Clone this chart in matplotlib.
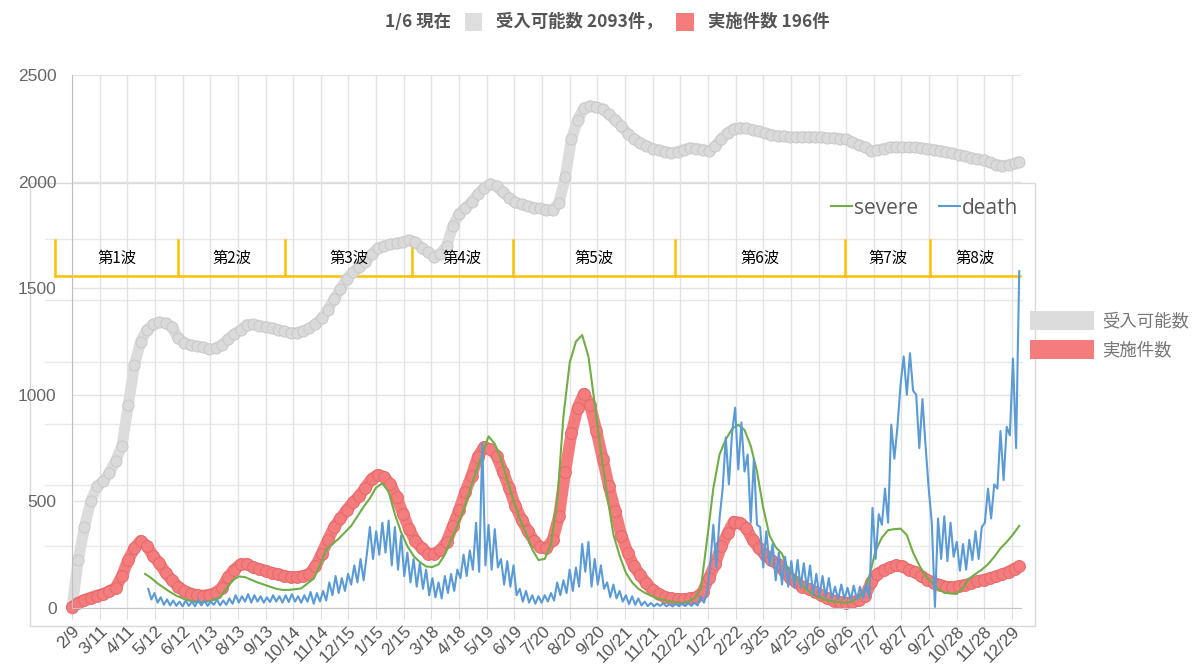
import matplotlib
matplotlib.use('Agg')
import matplotlib.pyplot as plt
from matplotlib.lines import Line2D
from matplotlib.patches import Patch, Rectangle
from matplotlib.offsetbox import TextArea, DrawingArea, HPacker, AnchoredOffsetbox
import pandas as pd

plt.rcParams['font.family'] = ['Noto Sans CJK JP', 'DejaVu Sans']

today = '2023-01-06'
latest_accept = 2093
latest_done = 196

# 受入可能数, weekly from 2020-02-09
accept = [0, 225, 380, 500, 570, 595, 635, 690, 760, 950,
          1140, 1250, 1305, 1330, 1340, 1335, 1320, 1265, 1245, 1232,
          1228, 1222, 1215, 1218, 1235, 1262, 1285, 1305, 1328, 1330,
          1325, 1318, 1313, 1305, 1298, 1292, 1292, 1300, 1312, 1330,
          1360, 1400, 1450, 1495, 1545, 1575, 1600, 1622, 1660, 1688,
          1698, 1705, 1710, 1718, 1725, 1715, 1690, 1670, 1648, 1660,
          1698, 1790, 1850, 1875, 1905, 1940, 1970, 1990, 1978, 1951,
          1925, 1902, 1893, 1885, 1878, 1874, 1869, 1868, 1900, 2020,
          2200, 2290, 2345, 2355, 2350, 2340, 2315, 2290, 2260, 2225,
          2200, 2182, 2168, 2155, 2148, 2140, 2134, 2140, 2150, 2158,
          2155, 2150, 2143, 2165, 2200, 2230, 2248, 2252, 2250, 2244,
          2235, 2228, 2220, 2215, 2212, 2210, 2208, 2210, 2210, 2208,
          2208, 2206, 2204, 2202, 2198, 2185, 2172, 2160, 2145, 2148,
          2155, 2160, 2162, 2162, 2160, 2160, 2158, 2155, 2150, 2145,
          2138, 2132, 2126, 2120, 2113, 2106, 2100, 2090, 2080, 2075,
          2078, 2085]

# 実施件数, weekly from 2020-02-09
done = [5, 25, 38, 48, 58, 66, 78, 95, 150, 225,
        280, 315, 290, 245, 210, 165, 130, 100, 80, 68,
        60, 58, 62, 72, 95, 145, 180, 205, 205, 192,
        183, 175, 165, 158, 150, 145, 145, 150, 160, 195,
        255, 320, 380, 420, 460, 495, 525, 565, 605, 625,
        615, 580, 520, 443, 370, 315, 280, 255, 255, 270,
        310, 385, 460, 545, 620, 710, 755, 745, 715, 640,
        565, 480, 415, 360, 315, 285, 280, 320, 430, 640,
        820, 940, 1005, 950, 830, 700, 570, 455, 340, 260,
        195, 155, 115, 85, 65, 52, 45, 42, 42, 45,
        50, 75, 140, 205, 290, 350, 405, 400, 375, 320,
        280, 250, 225, 205, 175, 140, 120, 100, 90, 75,
        60, 45, 35, 28, 24, 28, 36, 55, 120, 160,
        178, 190, 200, 195, 180, 170, 150, 132, 118, 108,
        100, 98, 102, 108, 115, 125, 132, 140, 148, 158,
        170, 185]

# severe, weekly, ending on the latest date
severe = [160, 140, 115, 95, 75, 58, 45, 35, 28, 25,
          30, 38, 50, 90, 130, 148, 145, 132, 120, 110,
          100, 90, 85, 85, 88, 92, 115, 138, 200, 275,
          300, 325, 355, 385, 430, 475, 515, 565, 585, 545,
          440, 355, 290, 244, 215, 195, 192, 205, 250, 320,
          385, 460, 550, 640, 720, 805, 770, 700, 600, 505,
          420, 350, 275, 225, 230, 300, 500, 900, 1150, 1250,
          1280, 1180, 960, 730, 530, 345, 245, 165, 120, 90,
          72, 58, 45, 38, 32, 26, 25, 30, 45, 90,
          320, 560, 720, 790, 840, 860, 835, 760, 640, 470,
          340, 285, 255, 180, 150, 115, 85, 65, 50, 38,
          32, 28, 25, 28, 45, 65, 150, 270, 330, 365,
          370, 372, 342, 260, 200, 150, 120, 90, 72, 68,
          66, 95, 138, 160, 180, 205, 240, 280, 310, 345,
          385]

# death, every half week, ending on the latest date
death = [90, 40, 70, 25, 50, 15, 40, 12,
         35, 10, 30, 8, 35, 10, 30, 8, 40, 12, 35, 10, 30, 15, 40, 12, 35, 15, 45, 20,
         60, 25, 55, 30, 65, 25, 60, 30, 55, 25, 50, 28, 60, 30, 55, 25, 60, 28, 65, 30, 55, 25, 60, 30,
         75, 20, 70, 30, 80, 35,
         120, 60, 150, 70, 140, 80, 160,
         110, 200, 120, 230, 130,
         250, 380, 230, 360, 250, 400, 260,
         410, 200, 380, 180, 340, 150,
         260, 120, 230, 100, 210, 90, 180,
         60, 140, 50, 120, 45,
         150, 70, 160, 80, 180,
         140, 250, 150, 270,
         180, 400, 170, 770,
         200, 390, 180, 370, 190,
         230, 110, 220, 100, 200,
         60, 90, 30, 80, 25, 60, 20,
         55, 25, 60, 30, 70, 35,
         120, 60, 130, 70, 180,
         80, 190, 100, 300, 170, 310,
         100, 230, 110, 200, 90,
         120, 50, 110, 45, 80, 30,
         60, 18, 55, 15, 45, 12, 30,
         9, 24, 8, 20, 10, 22, 8, 18, 7, 20, 8, 22, 9, 24, 10, 25, 12,
         55, 25, 70,
         200, 390, 190, 420,
         560, 800, 580, 820,
         940, 650, 870, 640,
         720, 400, 700, 390,
         380, 190, 360, 200, 300,
         130, 260, 110, 240, 100, 220, 95,
         225, 95, 210, 90, 200,
         60, 160, 55, 150, 50, 140, 45,
         100, 40, 110, 42, 95, 38, 105, 40, 100, 45, 110, 50,
         470, 230, 440,
         390, 560, 400,
         860, 700, 850,
         1050, 1180, 1000, 1195, 1020,
         1000, 750, 980, 760,
         560, 400, 5,
         420, 230, 430, 220, 400, 240,
         310, 175, 300, 180, 320,
         225, 360, 230, 380,
         400, 560, 420, 580,
         560, 830, 600, 850,
         810, 1170, 750, 1580]

wave_names = ['第1波', '第2波', '第3波', '第4波', '第5波', '第6波', '第7波', '第8波']
wave_edges = ['2020-01-21', '2020-06-07', '2020-10-05', '2021-02-24', '2021-06-17',
              '2021-12-16', '2022-06-25', '2022-09-28', '2023-01-07']

tick_dates = pd.date_range('2020-02-09', periods=35, freq='31D')
tick_labels = [f'{d.month}/{d.day}' for d in tick_dates]

now = pd.Timestamp(today)
accept_x = list(pd.date_range('2020-02-09', periods=len(accept), freq='7D')) + [now]
accept_y = accept + [latest_accept]
done_x = list(pd.date_range('2020-02-09', periods=len(done), freq='7D')) + [now]
done_y = done + [latest_done]
severe_x = pd.date_range(end=now, periods=len(severe), freq='7D')
death_x = pd.date_range(end=now, periods=len(death), freq='84h')

W, H = 1200, 671
fig = plt.figure(figsize=(12, 6.71), dpi=100)
ax = fig.add_axes([72 / W, 1 - 608 / H, 949 / W, 533 / H])
ax.set_facecolor('none')

# pasted sub-chart frame and its own grid
fig.add_artist(Rectangle((30 / W, 1 - 626 / H), 1005 / W, 443 / H, transform=fig.transFigure,
                         fill=False, ec='#d9d9d9', lw=1, zorder=-1))
for py in [239, 300, 362, 424, 485, 546]:
    fig.add_artist(Line2D([45 / W, 1022 / W], [1 - py / H] * 2, transform=fig.transFigure,
                          color='#e8e8e8', lw=1, zorder=-1))

ax.set_xlim(pd.Timestamp('2020-02-09'), pd.Timestamp('2023-01-08'))
ax.set_ylim(0, 2500)
ax.set_yticks(range(0, 2501, 500))
ax.set_xticks(tick_dates)
ax.set_xticklabels(tick_labels, rotation=45, ha='right', rotation_mode='anchor')
ax.grid(color='#e3e3e3', lw=1)
ax.set_axisbelow(True)
ax.tick_params(axis='y', length=0, pad=11, labelsize=12.5, labelcolor='#666666',
               labelfontfamily='Liberation Sans')
ax.tick_params(axis='x', length=8, color='#dddddd', pad=3, labelsize=12.5,
               labelcolor='#555555', labelfontfamily='Liberation Sans')
for s in ['top', 'right']:
    ax.spines[s].set_visible(False)
ax.spines['left'].set_color('#bfbfbf')
ax.spines['bottom'].set_color('#c4c4c4')

# wave brackets
edges = pd.to_datetime(wave_edges)
yb, yt = 1557, 1726
ax.plot([edges[0], edges[-1]], [yb, yb], color='#ffc000', lw=1.8, clip_on=False, zorder=1.5)
for e in edges[:-1]:
    ax.plot([e, e], [yb, yt], color='#ffc000', lw=1.8, clip_on=False, zorder=1.5)
for name, a, b in zip(wave_names, edges[:-1], edges[1:]):
    ax.text(a + (b - a) / 2, 1642, name, ha='center', va='center', fontsize=11, color='black')

ax.plot(accept_x, accept_y, color='#dcdcdc', lw=8, solid_capstyle='round', zorder=2, clip_on=False)
ax.plot(accept_x, accept_y, 'o', ms=8, mfc='#dadada', mec='#c9c9c9', mew=0.7, zorder=2.1,
        clip_on=False)
ax.plot(done_x, done_y, color='#f47c7c', lw=8.5, solid_capstyle='round', zorder=2.2, clip_on=False)
ax.plot(done_x, done_y, 'o', ms=8.5, mfc='#f47c7c', mec='#e46a6a', mew=0.7, zorder=2.3,
        clip_on=False)
ax.plot(severe_x, severe, color='#70ad47', lw=1.5, zorder=3, clip_on=False)
ax.plot(death_x, death, color='#5b9bd5', lw=1.5, zorder=3.5, clip_on=False)

h = [Line2D([], [], color='#70ad47', lw=1.5), Line2D([], [], color='#5b9bd5', lw=1.5)]
leg = ax.legend(h, ['severe', 'death'], loc='center right', bbox_to_anchor=(1018 / W, 1 - 208 / H),
                bbox_transform=fig.transFigure, ncol=2, frameon=False,
                prop={'family': 'Open Sans', 'size': 15}, handlelength=1.0, handletextpad=0.1,
                columnspacing=1.0, borderpad=0, borderaxespad=0)
for t in leg.get_texts():
    t.set_color('#595959')

fig.legend([Patch(fc='#dcdcdc'), Patch(fc='#f47c7c')], ['受入可能数', '実施件数'],
           loc='upper left', bbox_to_anchor=(1030 / W, 1 - 311 / H), frameon=False,
           fontsize=12.5, handlelength=3.7, handleheight=1.3, handletextpad=0.45,
           labelspacing=0.55, borderpad=0, borderaxespad=0, labelcolor='#777777')

# title row with coloured squares
tp = dict(fontsize=12.5, fontweight='bold', color='#555555')


def square(c):
    da = DrawingArea(12.5, 12.5)
    da.add_artist(Rectangle((0, 0), 12.5, 12.5, fc=c, ec='none'))
    return da


row = HPacker(children=[TextArea(f'{now.month}/{now.day} 現在', textprops=tp), square('#dedede'),
                        TextArea(f'受入可能数 {latest_accept}件，', textprops=tp), square('#f47c7c'),
                        TextArea(f'実施件数 {latest_done}件', textprops=tp)],
              align='center', pad=0, sep=10)
fig.add_artist(AnchoredOffsetbox(loc='center', child=row, pad=0, frameon=False, borderpad=0,
                                 bbox_to_anchor=(607 / W, 1 - 22 / H),
                                 bbox_transform=fig.transFigure))

fig.savefig('out.png', dpi=100)
